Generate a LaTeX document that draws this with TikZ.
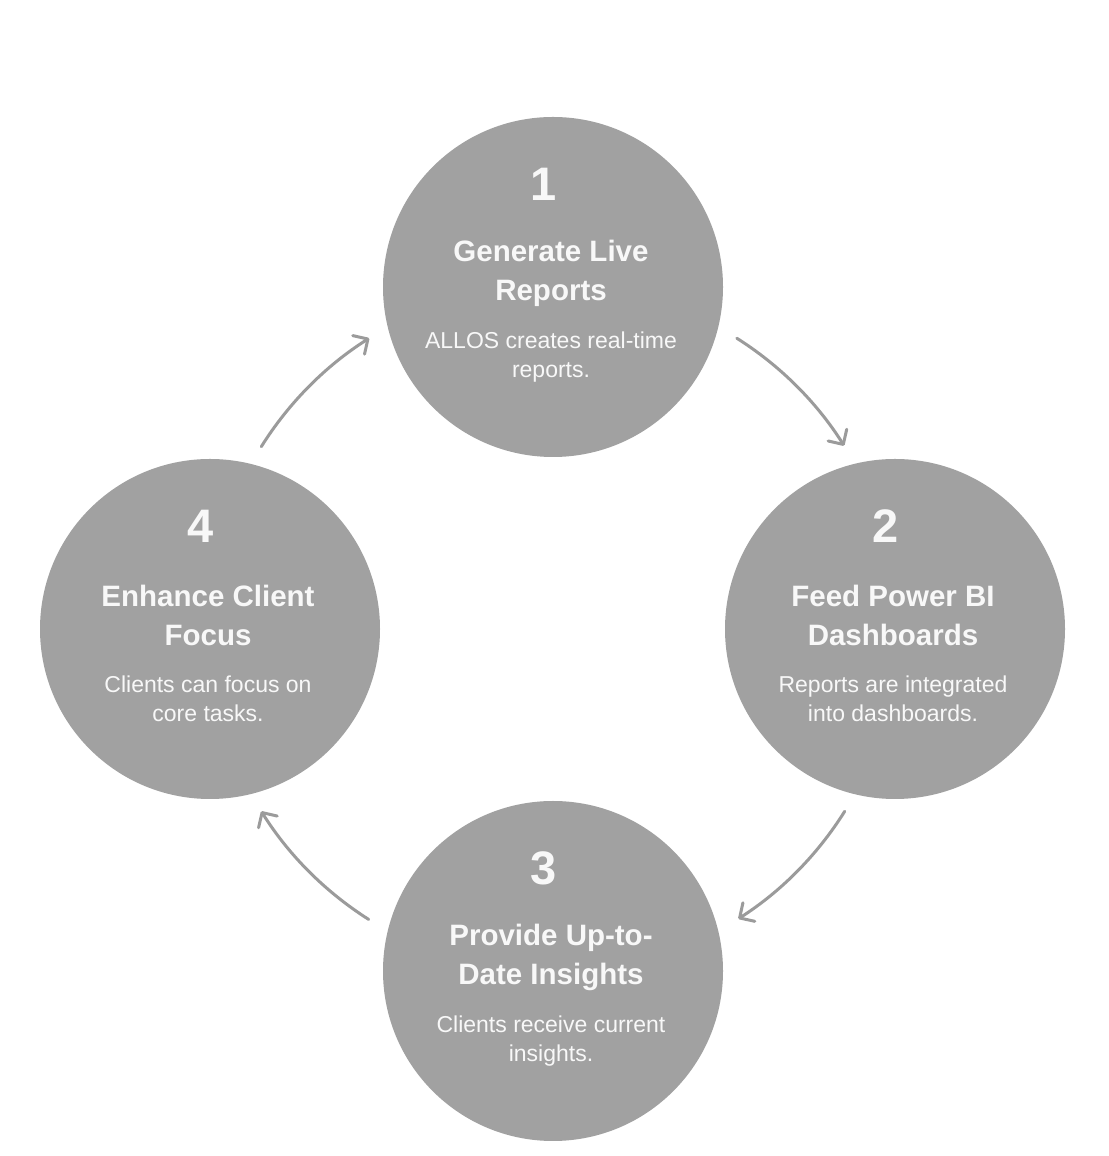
\documentclass[tikz,border=0pt]{standalone}
\usepackage{fontspec}
\setmainfont{Liberation Sans}
\usetikzlibrary{arrows.meta}
\definecolor{discgray}{HTML}{A1A1A1}
\definecolor{arrowgray}{HTML}{9B9B9B}
\definecolor{textwhite}{HTML}{F8F8F8}
\begin{document}
\begin{tikzpicture}[x=1pt,y=1pt,
  disc/.style={circle,fill=discgray,minimum size=340pt,inner sep=0pt},
  stepnum/.style={text=textwhite,font=\fontsize{47}{47}\selectfont\bfseries},
  steptitle/.style={text=textwhite,align=center,font=\fontsize{29.5}{39}\selectfont\bfseries},
  stepnote/.style={text=textwhite,align=center,font=\fontsize{23}{29}\selectfont},
  cycle/.style={arrowgray,line width=3pt,line cap=round,-{Straight Barb[length=11pt,width=22pt,round]}}]
\fill[white] (0,0) rectangle (1108,1156);
\useasboundingbox (0,0) rectangle (1108,1156);
\coordinate (hub) at (553,527);
% the four steps
\node[disc] (c1) at (553,869) {};
\node[disc] (c2) at (895,527) {};
\node[disc] (c3) at (553,185) {};
\node[disc] (c4) at (210,527) {};
\node[stepnum] (n1) at ([xshift=-9pt,yshift=103pt]c1.center) {1};
\node[steptitle] (t1) at ([xshift=-2pt,yshift=14pt]c1.center) {Generate Live\\Reports};
\node[stepnote] (d1) at ([xshift=-2pt,yshift=-70pt]c1.center) {ALLOS creates real-time\\reports.};
\node[stepnum] (n2) at ([xshift=-9pt,yshift=103pt]c2.center) {2};
\node[steptitle] (t2) at ([xshift=-2pt,yshift=14pt]c2.center) {Feed Power BI\\Dashboards};
\node[stepnote] (d2) at ([xshift=-2pt,yshift=-70pt]c2.center) {Reports are integrated\\into dashboards.};
\node[stepnum] (n3) at ([xshift=-9pt,yshift=103pt]c3.center) {3};
\node[steptitle] (t3) at ([xshift=-2pt,yshift=14pt]c3.center) {Provide Up-to-\\Date Insights};
\node[stepnote] (d3) at ([xshift=-2pt,yshift=-70pt]c3.center) {Clients receive current\\insights.};
\node[stepnum] (n4) at ([xshift=-9pt,yshift=103pt]c4.center) {4};
\node[steptitle] (t4) at ([xshift=-2pt,yshift=14pt]c4.center) {Enhance Client\\Focus};
\node[stepnote] (d4) at ([xshift=-2pt,yshift=-70pt]c4.center) {Clients can focus on\\core tasks.};
% arrows round the cycle
\draw[cycle] ([shift={(57.7:344)}]hub) arc[start angle=57.7,end angle=32.2,radius=344];
\draw[cycle] ([shift={(-32:344)}]hub) arc[start angle=-32,end angle=-57.4,radius=344];
\draw[cycle] ([shift={(237.6:344)}]hub) arc[start angle=237.6,end angle=212,radius=344];
\draw[cycle] ([shift={(148:344)}]hub) arc[start angle=148,end angle=122.3,radius=344];
\end{tikzpicture}
\end{document}
